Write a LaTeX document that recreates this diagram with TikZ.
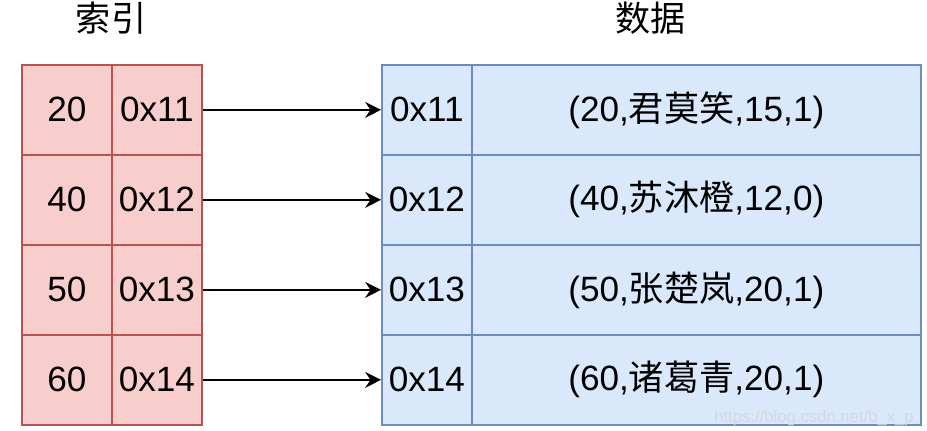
\documentclass[tikz,border=0pt]{standalone}
\usepackage{fontspec}
\setmainfont{Liberation Sans}
\newfontfamily\cjk{Noto Sans CJK SC}
\usetikzlibrary{arrows.meta}
\definecolor{idxfill}{HTML}{F8CECC}
\definecolor{idxline}{HTML}{B85450}
\definecolor{datfill}{HTML}{DAE8FC}
\definecolor{datline}{HTML}{6C8EBF}
\definecolor{mark}{HTML}{D4D8DE}
\tikzset{
  cell/.style={draw, line width=1pt, minimum height=1.8cm, inner sep=0pt,
               anchor=north west, font=\fontsize{20}{24}\selectfont},
  idxcell/.style={cell, fill=idxfill, draw=idxline, minimum width=1.8cm},
  ptrcell/.style={cell, fill=datfill, draw=datline, minimum width=1.8cm},
  reccell/.style={cell, fill=datfill, draw=datline, minimum width=8.98cm},
  head/.style={font=\fontsize{20}{24}\selectfont\cjk},
  ar/.style={-{Stealth[length=9pt, width=9pt, inset=3pt]}, line width=1pt}
}
\begin{document}
\begin{tikzpicture}[x=0.02cm, y=-0.02cm]
  \useasboundingbox (0,0) rectangle (927,431);

  \node[head] (idxhead) at (111,18) {索引};
  \node[head] (dathead) at (650.5,18) {数据};

  \foreach \k/\addr/\name/\a/\b [count=\i] in
      {20/0x11/君莫笑/15/1, 40/0x12/苏沐橙/12/0,
       50/0x13/张楚岚/20/1, 60/0x14/诸葛青/20/1} {
    \node[idxcell] (key\i)  at (21,  {64+90*(\i-1)}) {\k};
    \node[idxcell] (addr\i) at (111, {64+90*(\i-1)}) {\addr};
    \node[ptrcell] (ptr\i)  at (381, {64+90*(\i-1)}) {\addr};
    \node[reccell] (rec\i)  at (471, {64+90*(\i-1)}) {(\k,{\cjk\name},\a,\b)};
    \draw[ar] (addr\i.east) -- (ptr\i.west);
  }

  \node[text=mark, font=\fontsize{9.5}{11}\selectfont, inner sep=0pt] (wmark)
    at (814,418) {https://blog.csdn.net/b\_x\_p};
\end{tikzpicture}
\end{document}
